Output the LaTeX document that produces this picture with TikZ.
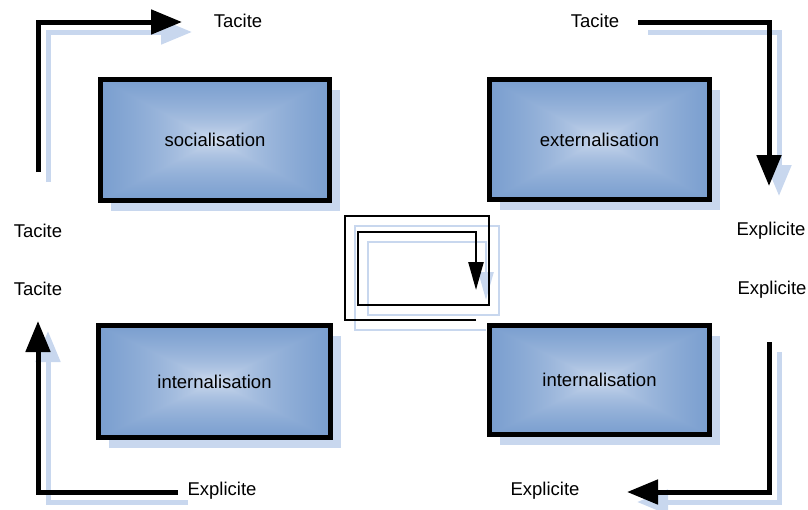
\documentclass[tikz,border=0pt]{standalone}
\usepackage{fontspec}
\setmainfont{Liberation Sans}
\usetikzlibrary{arrows.meta, shadows}

\definecolor{shadowblue}{RGB}{200,215,238}

% rectangular gradient, light in the middle, blue at the border
\pgfdeclarefunctionalshading{boxfill}{\pgfpointorigin}{\pgfpoint{100bp}{100bp}}{}{
  50 sub abs 50 div exch 50 sub abs 50 div
  2 copy lt {exch} if pop
  sqrt
  dup dup
  -0.21 mul 0.96 add
  3 1 roll
  -0.41 mul 0.91 add
  3 1 roll
  -0.57 mul 0.88 add
  3 1 roll
}

\tikzset{
  stage/.style={draw=black, line width=5pt, shading=boxfill,
    drop shadow={shadow xshift=10pt, shadow yshift=-10pt, fill=shadowblue, opacity=1},
    font=\fontsize{18.5}{22}\selectfont},
  word/.style={font=\fontsize{18.5}{22}\selectfont},
  flow/.style={line width=5pt, -{Triangle[length=31pt,width=24pt]}},
  flowshadow/.style={flow, draw=shadowblue},
  loop/.style={line width=2.5pt, -{Triangle[length=28pt,width=15pt]}},
  loopshadow/.style={loop, draw=shadowblue}
}

\begin{document}
\begin{tikzpicture}[x=1pt, y=-1pt]
  \useasboundingbox (0,0) rectangle (808,509);

  % the four stages
  \node[stage, minimum width=229pt, minimum height=121pt] (soc) at (215,140) {socialisation};
  \node[stage, minimum width=220pt, minimum height=120pt] (ext) at (599.5,139.5) {externalisation};
  \node[stage, minimum width=232pt, minimum height=112pt] (intl) at (214.5,381.5) {internalisation};
  \node[stage, minimum width=220pt, minimum height=109pt] (intr) at (599.5,380) {internalisation};

  % labels
  \node[word] (tactl) at (238,21) {Tacite};
  \node[word] (tactr) at (595,21) {Tacite};
  \node[word] (tacl1) at (38,231) {Tacite};
  \node[word] (tacl2) at (38,289) {Tacite};
  \node[word] (expr1) at (771,231) {Explicite};
  \node[word] (expr2) at (772,290) {Explicite};
  \node[word] (expbl) at (222,491) {Explicite};
  \node[word] (expbr) at (545,491) {Explicite};

  % arrow ends
  \coordinate (a1s) at (38,172);
  \coordinate (a1e) at (182,22);
  \coordinate (a2s) at (638,22);
  \coordinate (a2e) at (769,186);
  \coordinate (a3s) at (769,342);
  \coordinate (a3e) at (627,492);
  \coordinate (a4s) at (178,492);
  \coordinate (a4e) at (38,321);

  % centre loop
  \coordinate (c1) at (476,320);
  \coordinate (c2) at (345,320);
  \coordinate (c3) at (345,216);
  \coordinate (c4) at (489,216);
  \coordinate (c5) at (489,305);
  \coordinate (c6) at (358,305);
  \coordinate (c7) at (358,232);
  \coordinate (c8) at (476,232);
  \coordinate (c9) at (476,290);

  % shadows
  \draw[flowshadow] ([shift={(10,10)}]a1s) |- ([shift={(10,10)}]a1e);
  \draw[flowshadow] ([shift={(10,10)}]a2s) -| ([shift={(10,10)}]a2e);
  \draw[flowshadow] ([shift={(10,10)}]a3s) |- ([shift={(10,10)}]a3e);
  \draw[flowshadow] ([shift={(10,10)}]a4s) -| ([shift={(10,10)}]a4e);
  \draw[loopshadow] ([shift={(10,10)}]c1) -- ([shift={(10,10)}]c2) -- ([shift={(10,10)}]c3)
    -- ([shift={(10,10)}]c4) -- ([shift={(10,10)}]c5) -- ([shift={(10,10)}]c6)
    -- ([shift={(10,10)}]c7) -- ([shift={(10,10)}]c8) -- ([shift={(10,10)}]c9);

  % arrows
  \draw[flow] (a1s) |- (a1e);
  \draw[flow] (a2s) -| (a2e);
  \draw[flow] (a3s) |- (a3e);
  \draw[flow] (a4s) -| (a4e);
  \draw[loop] (c1) -- (c2) -- (c3) -- (c4) -- (c5) -- (c6) -- (c7) -- (c8) -- (c9);
\end{tikzpicture}
\end{document}
